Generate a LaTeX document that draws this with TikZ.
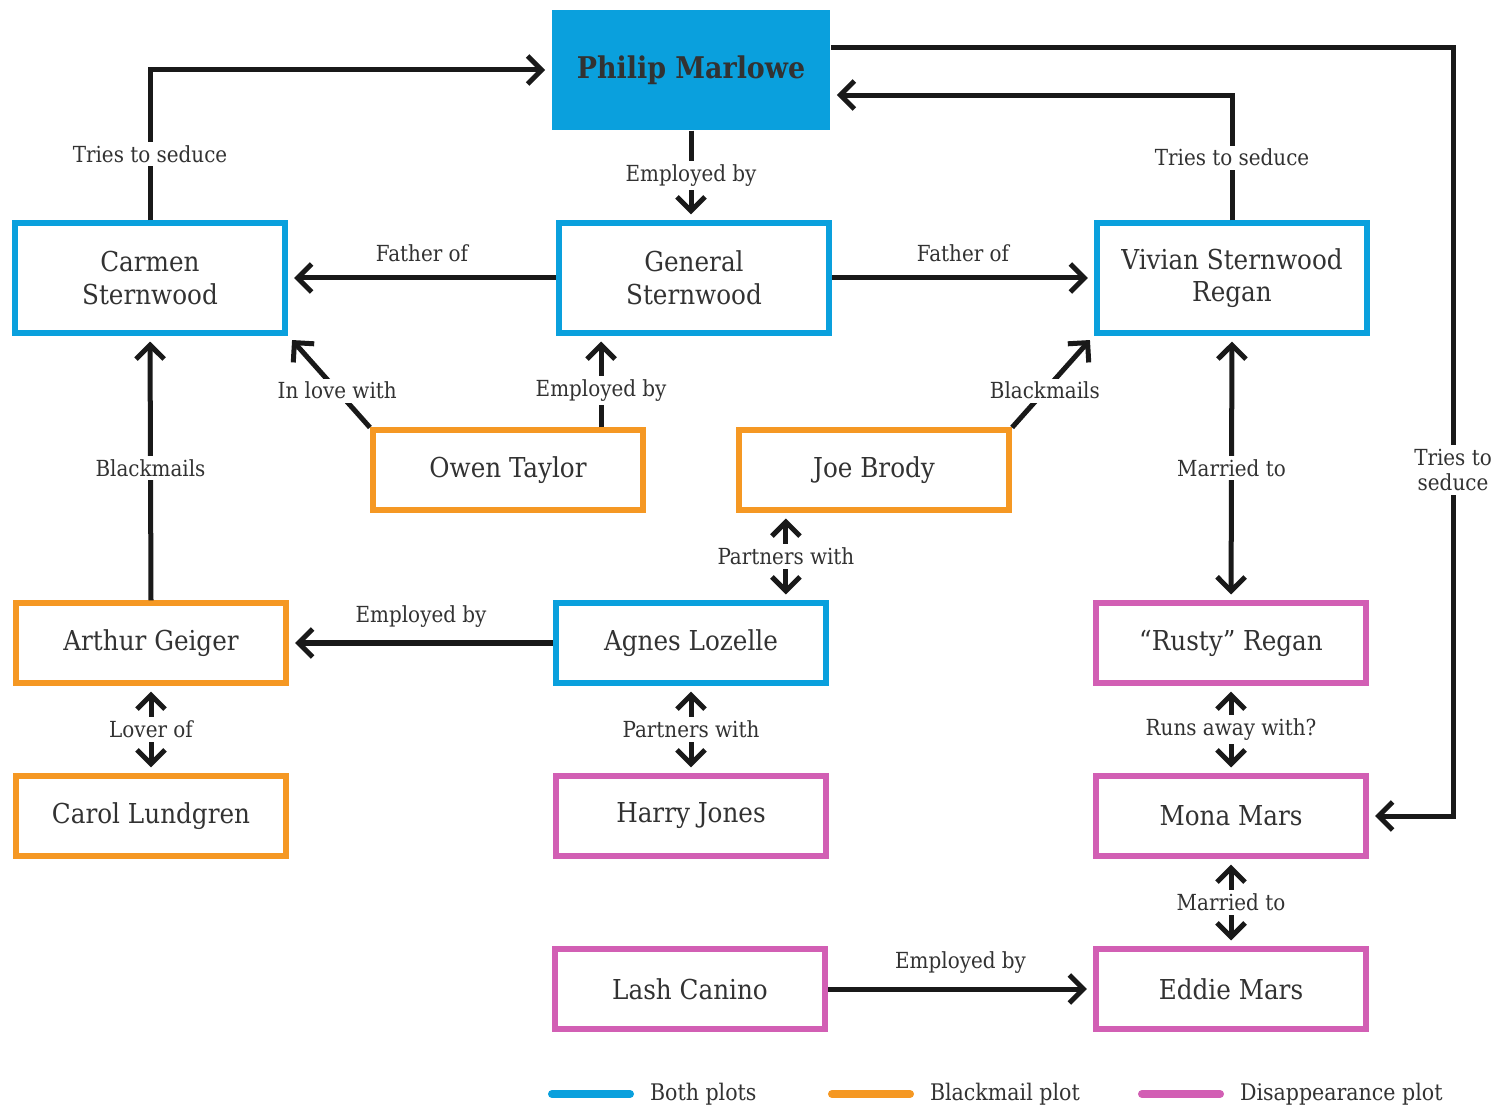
\documentclass[tikz,border=0pt]{standalone}
\usepackage{fontspec}
\setmainfont{DejaVu Serif Condensed}
\usetikzlibrary{arrows.meta, calc}
\definecolor{bothblue}{RGB}{10,160,221}
\definecolor{blackmailorange}{RGB}{245,152,35}
\definecolor{vanishpink}{RGB}{210,95,180}
\definecolor{inkgray}{RGB}{50,50,50}
\definecolor{inkline}{RGB}{25,25,25}
\tikzset{
    person/.style={rectangle, draw, line width=0.6mm, minimum width=2.7cm, minimum height=0.79cm, text centered, align=center, text=inkgray, font=\fontsize{7.8}{9.3}\selectfont},
    tall/.style={minimum height=1.09cm},
    both/.style={person, draw=bothblue},
    blackmail/.style={person, draw=blackmailorange},
    vanish/.style={person, draw=vanishpink},
    arrow/.style={line width=0.5mm, draw=inkline, -{Straight Barb[length=1.4mm,width=2.8mm]}, shorten >=0.6mm},
    twoway/.style={arrow, {Straight Barb[length=1.4mm,width=2.8mm]}-{Straight Barb[length=1.4mm,width=2.8mm]}, shorten <=0.6mm},
    lbl/.style={fill=white, inner sep=1pt, text=inkgray, font=\fontsize{6.3}{7.3}\selectfont, align=center}
}

\begin{document}
\begin{tikzpicture}[x=0.01cm, y=-0.01cm]
    \useasboundingbox (0,0) rectangle (1510,1107);

    % people
    \node (marlowe) [rectangle, fill=bothblue, minimum width=2.78cm, minimum height=1.2cm, text=inkgray, font=\bfseries\fontsize{8.5}{10}\selectfont] at (691,70) {Philip Marlowe};
    \node (carmen) [both, tall] at (150,278) {Carmen\\Sternwood};
    \node (general) [both, tall] at (694,278) {General\\Sternwood};
    \node (vivian) [both, tall] at (1232,278) {Vivian Sternwood\\Regan};
    \node (owen) [blackmail] at (508,470) {Owen Taylor};
    \node (joe) [blackmail] at (874,470) {Joe Brody};
    \node (arthur) [blackmail] at (151,643) {Arthur Geiger};
    \node (agnes) [both] at (691,643) {Agnes Lozelle};
    \node (rusty) [vanish] at (1231,643) {“Rusty” Regan};
    \node (carol) [blackmail] at (151,816) {Carol Lundgren};
    \node (harry) [vanish] at (691,816) {Harry Jones};
    \node (mona) [vanish] at (1231,816) {Mona Mars};
    \node (lash) [vanish] at (690,989) {Lash Canino};
    \node (eddie) [vanish] at (1231,989) {Eddie Mars};

    % relations
    \draw [arrow] (carmen.north) |- (marlowe.west) node [lbl, pos=0.22] {Tries to seduce};
    \draw [arrow] (marlowe.south) -- (marlowe.south |- general.north) node [lbl, midway] {Employed by};
    \draw [arrow] (vivian.north) |- ([yshift=-2.5mm]marlowe.east) node [lbl, pos=0.25] {Tries to seduce};
    \coordinate (ret) at (1453,470);
    \draw [arrow] ([yshift=2.2mm]marlowe.east) -| (ret) |- (mona.east);
    \node (retlbl) [lbl] at (ret) {Tries to\\seduce};

    \draw [arrow] (general.west) -- (carmen.east) node [lbl, midway, above=1mm] {Father of};
    \draw [arrow] (general.east) -- (vivian.west) node [lbl, midway, above=1mm] {Father of};
    \draw [arrow] (owen.north west) -- (carmen.south east) node [lbl, pos=0.4] {In love with};
    \coordinate (owenup) at ([xshift=9.3mm]owen.north);
    \draw [arrow] (owenup) -- (owenup |- general.south) node [lbl, pos=0.4] {Employed by};
    \draw [arrow] (joe.north east) -- (vivian.south west) node [lbl, pos=0.4] {Blackmails};
    \draw [arrow] (arthur.north) -- (carmen.south) node [lbl, midway] {Blackmails};
    \draw [twoway] (vivian.south) -- (rusty.north) node [lbl, midway] {Married to};
    \coordinate (joedown) at ([xshift=-8.8mm]joe.south);
    \draw [twoway] (joedown) -- (joedown |- agnes.north) node [lbl, midway] {Partners with};
    \draw [arrow] (agnes.west) -- (arthur.east) node [lbl, midway, above=1mm] {Employed by};
    \draw [twoway] (arthur.south) -- (carol.north) node [lbl, midway] {Lover of};
    \draw [twoway] (agnes.south) -- (harry.north) node [lbl, midway] {Partners with};
    \draw [twoway] (rusty.south) -- (mona.north) node [lbl, midway] {Runs away with?};
    \draw [twoway] (mona.south) -- (eddie.north) node [lbl, midway] {Married to};
    \draw [arrow] (lash.east) -- (eddie.west) node [lbl, midway, above=1mm] {Employed by};

    % legend
    \foreach \x/\col/\txt in {552/bothblue/Both plots, 832/blackmailorange/Blackmail plot, 1142/vanishpink/Disappearance plot} {
        \draw [\col, line width=0.8mm, line cap=round] (\x,1094) -- ++(78,0)
            node (key\x) [right=1.6mm, inner sep=0pt, text=inkgray, font=\fontsize{6.5}{7.5}\selectfont] {\txt};
    }
\end{tikzpicture}
\end{document}
